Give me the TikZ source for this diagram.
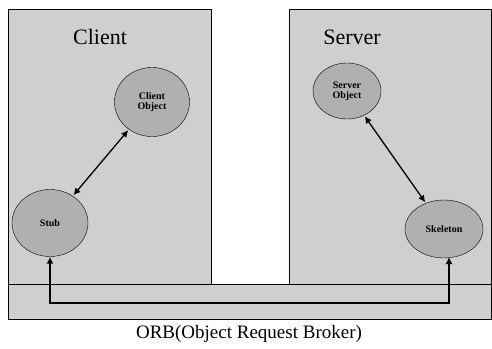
\documentclass[tikz,border=0pt]{standalone}
\usepackage{fontspec}
\setmainfont{Liberation Serif}
\usetikzlibrary{shapes.geometric,arrows.meta}

\tikzset{
  caja/.style={draw=black,fill=gray!38},
  obj/.style={ellipse,draw=black,fill=gray!62,font=\bfseries\fontsize{10}{10}\selectfont,align=center,inner sep=0pt},
  flecha/.style={line width=1.3pt,{Latex[length=7pt,width=7pt]}-{Latex[length=7pt,width=7pt]}}
}

\begin{document}
\begin{tikzpicture}[x=1pt,y=-1pt] % 1 unidad = 1 pixel de la figura
  \useasboundingbox (0,0) rectangle (492,348);
  \draw[caja] (8,9) rectangle (211,284);
  \draw[caja] (289,9) rectangle (491.5,284);
  \draw[caja] (8,284) rectangle (491.5,319);
  \node[font=\fontsize{22}{22}\selectfont] (cliente) at (100,37) {Client};
  \node[font=\fontsize{22}{22}\selectfont] (servidor) at (352,37) {Server};
  \node[obj,minimum width=75,minimum height=69] (cobj) at (152,102) {Client\\Object};
  \node[obj,minimum width=76,minimum height=67] (stub) at (50,223) {Stub};
  \node[obj,minimum width=68,minimum height=56] (sobj) at (347,91) {Server\\Object};
  \node[obj,minimum width=78,minimum height=58] (skel) at (444,229) {Skeleton};
  \node[font=\fontsize{19}{19}\selectfont] (orb) at (249,334) {ORB(Object Request Broker)};
  \coordinate (c1) at (50,303);
  \coordinate (c2) at (449,303);
  \coordinate (c3) at (449,257);
  \draw[flecha,shorten <=1pt,shorten >=1pt] (cobj) -- (stub);
  \draw[flecha,shorten <=1pt,shorten >=1pt] (sobj) -- (skel);
  \draw[flecha] (stub.south) -- (c1) -- (c2) -- (c3);
\end{tikzpicture}
\end{document}
